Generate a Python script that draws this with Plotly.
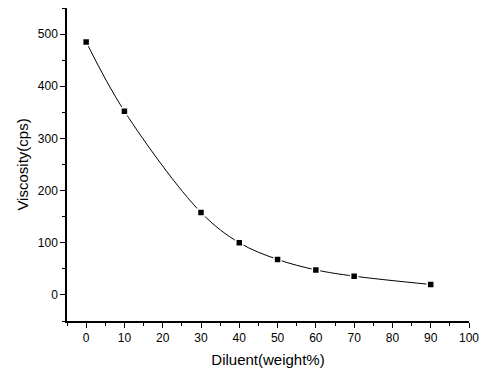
import plotly.graph_objects as go

diluent = [0, 10, 30, 40, 50, 60, 70, 90]
viscosity = [485, 352, 158, 100, 68, 48, 36, 20]
x_ticks = [0, 10, 20, 30, 40, 50, 60, 70, 80, 90, 100]
y_ticks = [0, 100, 200, 300, 400, 500]

fig = go.Figure()
fig.add_trace(go.Scatter(
    x=diluent, y=viscosity, mode="lines+markers",
    line=dict(color="black", width=1, shape="spline", smoothing=1.0),
    marker=dict(symbol="square", size=7, color="black",
                line=dict(color="white", width=1.5)),
    showlegend=False,
))

axis_font = dict(family="Liberation Sans, Arial, sans-serif", size=12, color="black")
fig.update_layout(
    width=481, height=371,
    margin=dict(l=67, r=12, t=8, b=50),
    paper_bgcolor="white", plot_bgcolor="white",
    font=axis_font,
    xaxis=dict(
        range=[-5, 100], tickvals=x_ticks, ticks="outside", ticklen=5,
        tickwidth=1.2, tickcolor="black", automargin=False,
        showline=True, linecolor="black", linewidth=1.5,
        showgrid=False, zeroline=False,
        minor=dict(ticks="outside", ticklen=3, dtick=5, tick0=0, tickcolor="black", showgrid=False),
        title=dict(text="Diluent(weight%)", font=dict(size=15), standoff=10),
    ),
    yaxis=dict(
        range=[-50, 550], tickvals=y_ticks, ticks="outside", ticklen=5,
        tickwidth=1.2, tickcolor="black", automargin=False,
        showline=True, linecolor="black", linewidth=1.5,
        showgrid=False, zeroline=False,
        minor=dict(ticks="outside", ticklen=3, dtick=50, tick0=0, tickcolor="black", showgrid=False),
        title=dict(text="Viscosity(cps)", font=dict(size=15), standoff=6),
    ),
)

fig.write_html("out.html")
